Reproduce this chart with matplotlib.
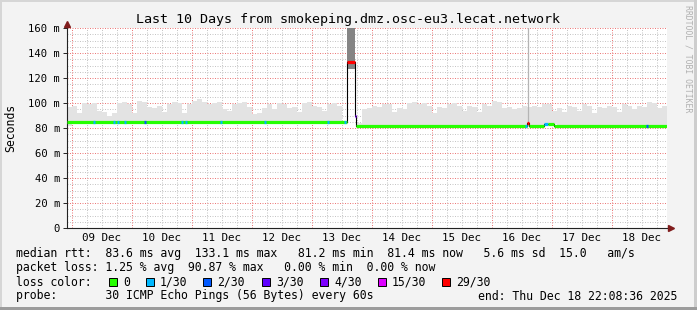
import numpy as np
import matplotlib.pyplot as plt
from matplotlib.patches import Rectangle

# time axis: hours since 08 Dec 00:00
t_start = 22.14
t_end = 262.14

# median rtt segments (ms) with loss colour index
med_start = [22.14, 134.3, 137.3, 137.8, 206.3, 207.1, 212.9, 214.5, 217.0]
med_end = [134.3, 137.3, 137.8, 206.3, 207.1, 212.9, 214.5, 217.0, 262.14]
med_val = [84.8, 133.0, 90.0, 81.5, 84.0, 81.5, 83.0, 83.0, 81.5]
med_loss = [0, 6, 4, 0, 6, 0, 1, 0, 0]

# short loss spots on the median line (hour, loss index)
spot_hours = [32.9, 40.9, 42.5, 45.3, 53.3, 68.1, 69.7, 83.7, 101.3, 126.5, 133.3, 205.7, 254.1]
spot_loss = [1, 1, 1, 1, 2, 1, 1, 1, 1, 1, 1, 1, 2]

# smoke upper edge, 2 h bins starting 08 Dec 22:00 (ms)
smoke_hi = [97, 98, 92, 100, 99, 100, 94, 93, 90, 92,
            100, 101, 99, 92, 102, 101, 97, 96, 98, 93,
            99, 101, 100, 92, 99, 102, 103, 101, 99, 100,
            101, 95, 94, 99, 100, 101, 97, 91, 92, 96,
            99, 95, 100, 99, 96, 97, 93, 100, 101, 98,
            97, 94, 99, 100, 98, 97, np.nan, np.nan, 84, 95,
            96, 98, 97, 99, 99, 93, 96, 95, 100, 101,
            99, 100, 98, 92, 97, 96, 99, 100, 98, 94,
            98, 97, 93, 99, 98, 102, 101, 96, 97, 95,
            96, 98, 97, 98, 97, 99, 99, 94, 96, 93,
            98, 97, 94, 99, 98, 92, 97, 96, 98, 97,
            93, 99, 98, 95, 98, 97, 101, 100, 96, 98, 97]
smoke_t0 = 22.0
smoke_step = 2.0

# outage smoke band and lone spike
outage_lo, outage_hi = 127.0, 175.0
spike_hour = 206.6

loss_colors = ['#26ff00', '#00b8ff', '#0059ff', '#5e00ff', '#7e00ff', '#dd00ff', '#ff0000']
loss_labels = ['0', '1/30', '2/30', '3/30', '4/30', '15/30', '29/30']

day_names = ['09 Dec', '10 Dec', '11 Dec', '12 Dec', '13 Dec',
             '14 Dec', '15 Dec', '16 Dec', '17 Dec', '18 Dec']
y_ticks = [0, 20, 40, 60, 80, 100, 120, 140, 160]
y_labels = ['0', '20 m', '40 m', '60 m', '80 m', '100 m', '120 m', '140 m', '160 m']

W, H = 697, 310
plt.rcParams['font.family'] = 'DejaVu Sans Mono'

fig = plt.figure(figsize=(W / 100, H / 100), dpi=100, facecolor='#f3f3f3')
ax = fig.add_axes([67 / W, 82 / H, 600 / W, 200 / H])
ax.set_facecolor('white')
ax.set_xlim(t_start, t_end)
ax.set_ylim(0, 160)


def fx(x):
    return x / W


def fy(y):
    return 1 - y / H


def median_at(h):
    for s, e, v in zip(med_start, med_end, med_val):
        if s <= h < e:
            return v
    return med_val[-1]


# grid: dotted, minor grey every 5 ms / 6 h, major red every 20 ms / day
grid_kw = dict(lw=0.72, ls=(0, (1, 1.5)))
for v in np.arange(0, 161, 5):
    if v % 20:
        ax.axhline(v, color='#c6c6c6', zorder=0, **grid_kw)
for h in np.arange(24, t_end, 6):
    if h % 24:
        ax.axvline(h, color='#c6c6c6', zorder=0, **grid_kw)
for v in y_ticks[1:]:
    ax.axhline(v, color='#ec7a7a', zorder=0.5, **grid_kw)
for h in np.arange(24, t_end, 24):
    ax.axvline(h, color='#ec7a7a', zorder=0.5, **grid_kw)

# smoke
smoke_t = smoke_t0 + smoke_step * np.arange(len(smoke_hi))
smoke_base = np.array([median_at(h) for h in smoke_t])
smoke_arr = np.array(smoke_hi, dtype=float)
ax.fill_between(np.append(smoke_t, smoke_t[-1] + smoke_step),
                np.append(smoke_base, smoke_base[-1]),
                np.append(smoke_arr, smoke_arr[-1]),
                step='post', color='#e3e3e3', lw=0, zorder=1)
ax.fill_between([med_start[1], med_end[1]], outage_lo, outage_hi,
                color='#858585', lw=0, zorder=1)
ax.vlines(spike_hour, med_val[3], outage_hi, color='#b4b4b4', lw=0.9, zorder=1)

# median: black connector then coloured segments
step_x = med_start + [med_end[-1]]
step_y = med_val + [med_val[-1]]
ax.step(step_x, step_y, where='post', color='black', lw=0.8, zorder=2)
for s, e, v, li in zip(med_start, med_end, med_val, med_loss):
    ax.hlines(v, s, e, color=loss_colors[li], lw=2.3, zorder=3)
for h, li in zip(spot_hours, spot_loss):
    ax.hlines(median_at(h), h - 0.4, h + 0.4, color=loss_colors[li], lw=2.3, zorder=4)

# axes
for side in ['top', 'right']:
    ax.spines[side].set_visible(False)
for side in ['left', 'bottom']:
    ax.spines[side].set_color('#222222')
    ax.spines[side].set_linewidth(0.8)
ax.set_yticks(y_ticks, y_labels)
ax.set_xticks([36 + 24 * i for i in range(len(day_names))], day_names)
ax.tick_params(axis='x', length=0, labelsize=7.8, pad=3.5, colors='black')
ax.tick_params(axis='y', length=3, width=0.7, labelsize=7.6, pad=2, colors='#222222')
for lab in ax.get_yticklabels() + ax.get_xticklabels():
    lab.set_color('black')
ax.plot([t_start], [163.5], marker='^', color='#801c1c', ms=4, clip_on=False, zorder=5)
ax.plot([t_end + 1.6], [0], marker='>', color='#801c1c', ms=4, clip_on=False, zorder=5)

ax.set_ylabel('Seconds', fontsize=8.3, labelpad=8)

fig.text(fx(348), fy(19), 'Last 10 Days from smokeping.dmz.osc-eu3.lecat.network',
         ha='center', va='center', fontsize=9.6)
fig.text(fx(688), fy(59), 'RRDTOOL / TOBI OETIKER', rotation=270,
         ha='center', va='center', fontsize=5.9, color='#b0b0b0')

# legend block (monospaced rows like rrdtool)
fs = 8.3
rows = [(254, 'median rtt:  83.6 ms avg  133.1 ms max   81.2 ms min  81.4 ms now   5.6 ms sd  15.0   am/s'),
        (268, 'packet loss: 1.25 % avg  90.87 % max   0.00 % min  0.00 % now'),
        (296, 'probe:       30 ICMP Echo Pings (56 Bytes) every 60s')]
for y, s in rows:
    fig.text(fx(16), fy(y), s, ha='left', va='center', fontsize=fs)
fig.text(fx(478), fy(296), 'end: Thu Dec 18 22:08:36 2025', ha='left', va='center', fontsize=fs)
fig.text(fx(16), fy(282), 'loss color:', ha='left', va='center', fontsize=fs)
box_x = [109, 146, 203, 262, 320, 378, 442]
for bx, c, lab in zip(box_x, loss_colors, loss_labels):
    fig.add_artist(Rectangle((fx(bx), fy(286)), 8 / W, 8 / H, transform=fig.transFigure,
                             facecolor=c, edgecolor='black', lw=0.7))
    fig.text(fx(bx + 14), fy(282), lab, ha='left', va='center', fontsize=fs)

# frame
fig.add_artist(Rectangle((0, 0), 2 / W, 1, transform=fig.transFigure, color='#d6d6d6', lw=0))
fig.add_artist(Rectangle((0, 1 - 2 / H), 1, 2 / H, transform=fig.transFigure, color='#d6d6d6', lw=0))
fig.add_artist(Rectangle((1 - 3 / W, 0), 3 / W, 1, transform=fig.transFigure, color='#cdcdcd', lw=0))
fig.add_artist(Rectangle((0, 0), 1, 3 / H, transform=fig.transFigure, color='#9c9c9c', lw=0))

fig.savefig('out.png', dpi=100, facecolor=fig.get_facecolor())
